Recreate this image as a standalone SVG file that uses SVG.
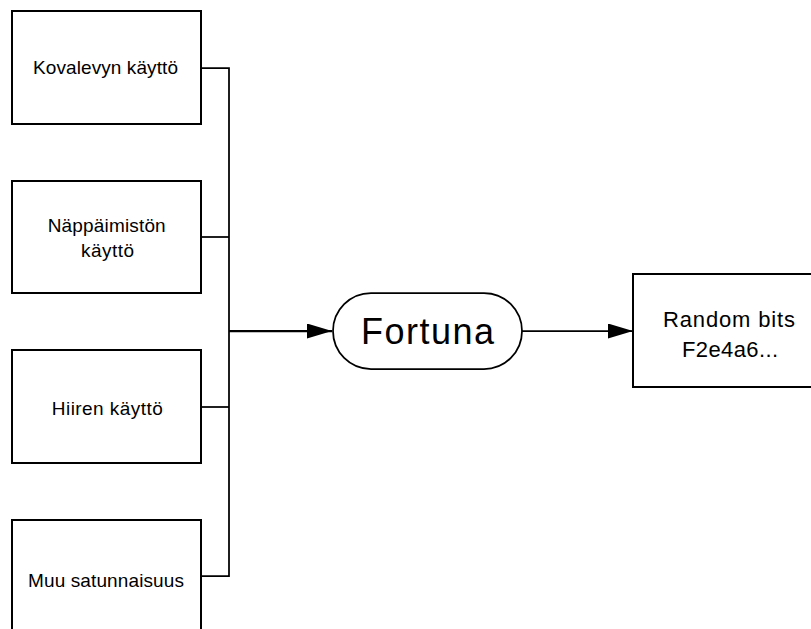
<svg xmlns="http://www.w3.org/2000/svg" width="811" height="629" viewBox="0 0 811 629">
<style>
.box{fill:#fff;stroke:#000;stroke-width:2}
.term{fill:#fff;stroke:#000;stroke-width:1.75}
.conn{fill:none;stroke:#000;stroke-width:1.75}
.main{fill:none;stroke:#000;stroke-width:2.25}
.t{font-family:"Liberation Sans",Arial,sans-serif;font-size:19px;fill:#000;text-anchor:middle}
.tb{font-family:"Liberation Sans",Arial,sans-serif;font-size:36px;fill:#000;text-anchor:middle}
.tr{font-family:"Liberation Sans",Arial,sans-serif;font-size:22px;fill:#000;text-anchor:middle}
</style>
<defs>
<marker id="ah" markerUnits="userSpaceOnUse" markerWidth="26" markerHeight="16" refX="25" refY="7.5" orient="auto">
<path d="M0,0 L25,7.5 L0,15 z" fill="#000"/>
</marker>
</defs>
<rect width="811" height="629" fill="#fff"/>
<g id="connectors">
<path class="conn" d="M201,68 H229 V576 H201"/>
<path class="conn" d="M201,237 H229"/>
<path class="conn" d="M201,407 H229"/>
<path class="main" d="M229,331 H332" marker-end="url(#ah)"/>
<path class="conn" d="M522,331 H633" marker-end="url(#ah)"/>
</g>
<g id="kovalevy">
<rect class="box" x="12" y="11" width="189" height="113"/>
<text class="t" x="105.5" y="74" textLength="145" lengthAdjust="spacing">Kovalevyn käyttö</text>
</g>
<g id="nappaimisto">
<rect class="box" x="12" y="181" width="189" height="112"/>
<text class="t" x="106.7" y="232" textLength="118" lengthAdjust="spacing">Näppäimistön</text>
<text class="t" x="107.5" y="257" textLength="53" lengthAdjust="spacing">käyttö</text>
</g>
<g id="hiiri">
<rect class="box" x="12" y="350" width="189" height="113"/>
<text class="t" x="107.3" y="415" textLength="111" lengthAdjust="spacing">Hiiren käyttö</text>
</g>
<g id="muu">
<rect class="box" x="12" y="520" width="189" height="113"/>
<text class="t" x="106" y="587" textLength="156" lengthAdjust="spacing">Muu satunnaisuus</text>
</g>
<g id="fortuna">
<rect class="term" x="333" y="293" width="189" height="76" rx="38" ry="38"/>
<text class="tb" x="427.5" y="344" textLength="133" lengthAdjust="spacing">Fortuna</text>
</g>
<g id="random">
<rect class="box" x="633" y="274" width="194" height="113"/>
<text class="tr" x="729" y="326.5" textLength="132" lengthAdjust="spacing">Random bits</text>
<text class="tr" x="730" y="356.5" textLength="96" lengthAdjust="spacing">F2e4a6...</text>
</g>
</svg>
